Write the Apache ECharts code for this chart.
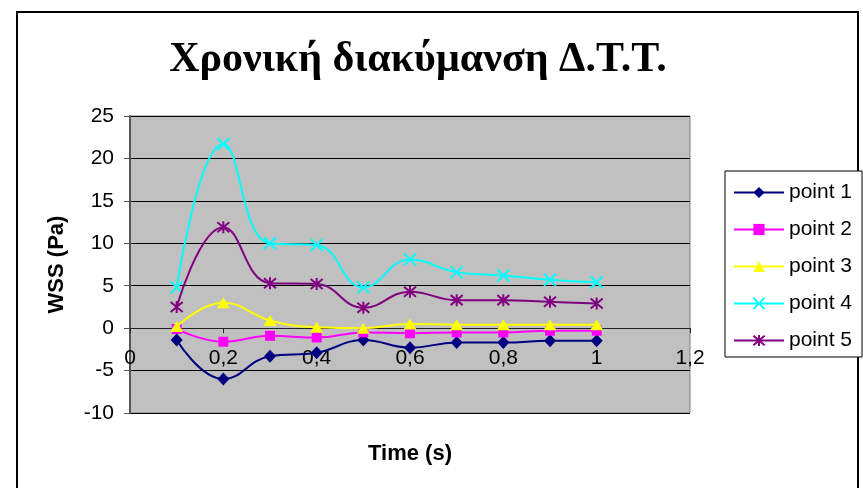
<!DOCTYPE html>
<html>
<head>
<meta charset="utf-8">
<script src="https://cdn.jsdelivr.net/npm/echarts@6/dist/echarts.min.js"></script>
<style>
  html, body { margin: 0; padding: 0; background: #ffffff; }
  #chart { width: 863px; height: 488px; }
</style>
</head>
<body>
<div id="chart"></div>
<script>
// Sampling times (s)
const times = [0.1, 0.2, 0.3, 0.4, 0.5, 0.6, 0.7, 0.8, 0.9, 1.0];

// Wall shear stress (Pa) at each monitoring point
const point1 = [-1.4, -6.0, -3.3, -2.9, -1.4, -2.3, -1.7, -1.7, -1.5, -1.5];
const point2 = [-0.1, -1.6, -0.9, -1.1, -0.5, -0.6, -0.5, -0.5, -0.3, -0.3];
const point3 = [0.2, 3.0, 0.9, 0.1, 0.0, 0.5, 0.4, 0.4, 0.4, 0.4];
const point4 = [4.8, 21.7, 10.0, 9.8, 4.8, 8.1, 6.6, 6.2, 5.7, 5.4];
const point5 = [2.5, 11.9, 5.3, 5.2, 2.4, 4.3, 3.3, 3.3, 3.1, 2.9];

const seriesNames = ['point 1', 'point 2', 'point 3', 'point 4', 'point 5'];
const seriesValues = [point1, point2, point3, point4, point5];

// Axis ranges
const xMin = 0, xMax = 1.2, xStep = 0.2;
const yMin = -10, yMax = 25, yStep = 5;

const titleText = 'Χρονική διακύμανση Δ.Τ.Τ.';
const xTitle = 'Time (s)';
const yTitle = 'WSS (Pa)';

const styles = [
  { color: '#000080', symbol: 'diamond', size: [12, 13], stroke: 0 },
  { color: '#FF00FF', symbol: 'rect', size: 10, stroke: 0 },
  { color: '#FFFF00', symbol: 'triangle', size: [13, 11], stroke: 0 },
  { color: '#00FFFF', symbol: 'path://M0,0L10,10M10,0L0,10', size: 12, stroke: 2 },
  { color: '#800080', symbol: 'path://M0,0L10,10M10,0L0,10M5,-1L5,11', size: 12, stroke: 2 }
];

const fmtTick = v => String(+v.toFixed(1)).replace('.', ',');
const axisFont = 'Liberation Sans, Arial, sans-serif';

// Plot box
const gridTop = 116, gridBottom = 75;
const plotHeight = 488 - gridTop - gridBottom;
// Shift the x axis up so it runs along y = 0
const zeroOffset = -plotHeight * (0 - yMin) / (yMax - yMin);

const series = seriesNames.map((name, i) => {
  const s = styles[i];
  return {
    name: name,
    type: 'line',
    smooth: 0.45,
    showSymbol: true,
    symbol: s.symbol,
    symbolSize: s.size,
    data: times.map((t, k) => [t, seriesValues[i][k]]),
    lineStyle: { color: s.color, width: 2 },
    itemStyle: {
      color: s.stroke ? 'rgba(0,0,0,0)' : s.color,
      borderColor: s.color,
      borderWidth: s.stroke
    },
    emphasis: { disabled: true },
    z: 3 + i
  };
});

const chart = echarts.init(document.getElementById('chart'), null, { renderer: 'canvas' });
chart.setOption({
  animation: false,
  backgroundColor: '#ffffff',
  title: {
    text: titleText,
    left: 418,
    top: 39,
    padding: 0,
    textAlign: 'center',
    textStyle: {
      fontFamily: 'Liberation Serif, Times New Roman, serif',
      fontWeight: 'bold',
      fontSize: 42,
      color: '#000'
    }
  },
  graphic: [{
    type: 'rect',
    shape: { x: 17, y: 12, width: 841, height: 500 },
    style: { fill: 'none', stroke: '#000', lineWidth: 2 },
    z: -1
  }],
  legend: {
    orient: 'vertical',
    left: 725,
    top: 171,
    padding: [11, 10, 6, 8],
    itemWidth: 50,
    itemHeight: 14,
    itemGap: 16,
    backgroundColor: '#ffffff',
    borderColor: '#000',
    borderWidth: 1,
    textStyle: { fontFamily: axisFont, fontSize: 21, color: '#000' },
    data: seriesNames
  },
  grid: {
    left: 130,
    right: 173,
    top: gridTop,
    bottom: gridBottom,
    containLabel: false,
    outerBoundsMode: 'none',
    show: true,
    backgroundColor: '#C0C0C0',
    borderColor: '#808080',
    borderWidth: 1
  },
  xAxis: [{
    type: 'value',
    min: xMin,
    max: xMax,
    interval: xStep,
    position: 'bottom',
    offset: zeroOffset,
    name: xTitle,
    nameLocation: 'middle',
    nameGap: 115,
    nameTextStyle: { fontFamily: axisFont, fontWeight: 'bold', fontSize: 22, color: '#000' },
    axisLine: { show: true, onZero: false, lineStyle: { color: '#222', width: 1 } },
    axisTick: { show: true, inside: false, length: 5, lineStyle: { color: '#222' } },
    axisLabel: {
      margin: 20,
      fontFamily: axisFont,
      fontSize: 21,
      color: '#000',
      formatter: fmtTick
    },
    splitLine: { show: false }
  }],
  yAxis: {
    type: 'value',
    min: yMin,
    max: yMax,
    interval: yStep,
    name: yTitle,
    nameLocation: 'middle',
    nameGap: 62,
    nameRotate: 90,
    nameTextStyle: { fontFamily: axisFont, fontWeight: 'bold', fontSize: 22, color: '#000' },
    axisLine: { show: true, onZero: false, lineStyle: { color: '#555', width: 2 } },
    axisTick: { show: true, inside: false, length: 6, lineStyle: { color: '#555' } },
    axisLabel: {
      margin: 16,
      fontFamily: axisFont,
      fontSize: 21,
      color: '#000',
      formatter: v => String(v)
    },
    splitLine: { show: true, lineStyle: { color: '#000', width: 1 } }
  },
  series: series
});
</script>
</body>
</html>
